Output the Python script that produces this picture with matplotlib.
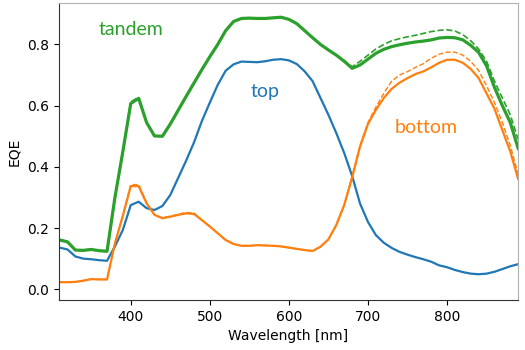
import matplotlib
matplotlib.use("Agg")
import matplotlib.pyplot as plt
import numpy as np

# wavelength grid [nm]
wavelength = np.arange(310, 891, 10)

# EQE
tandem = [0.161, 0.155, 0.128, 0.127, 0.130, 0.126, 0.124, 0.300, 0.450, 0.607,
          0.624, 0.545, 0.501, 0.500, 0.540, 0.585, 0.630, 0.674, 0.718, 0.760,
          0.800, 0.845, 0.875, 0.885, 0.886, 0.885, 0.885, 0.887, 0.889, 0.882,
          0.868, 0.845, 0.822, 0.800, 0.782, 0.765, 0.745, 0.722, 0.733, 0.752,
          0.771, 0.784, 0.793, 0.799, 0.804, 0.808, 0.811, 0.815, 0.821, 0.823,
          0.822, 0.815, 0.797, 0.774, 0.730, 0.660, 0.600, 0.545, 0.460]
tandem_dash = [0.161, 0.155, 0.128, 0.127, 0.130, 0.126, 0.124, 0.300, 0.452, 0.612,
               0.628, 0.545, 0.501, 0.500, 0.540, 0.585, 0.632, 0.676, 0.718, 0.760,
               0.800, 0.845, 0.875, 0.885, 0.886, 0.885, 0.885, 0.887, 0.889, 0.882,
               0.868, 0.845, 0.822, 0.800, 0.782, 0.765, 0.747, 0.727, 0.745, 0.765,
               0.785, 0.800, 0.812, 0.819, 0.825, 0.830, 0.836, 0.842, 0.846, 0.848,
               0.844, 0.832, 0.812, 0.785, 0.745, 0.680, 0.625, 0.570, 0.490]
top = [0.136, 0.130, 0.107, 0.100, 0.098, 0.095, 0.093, 0.140, 0.194, 0.275,
       0.286, 0.265, 0.259, 0.272, 0.308, 0.364, 0.420, 0.480, 0.550, 0.610,
       0.668, 0.714, 0.735, 0.744, 0.743, 0.742, 0.745, 0.750, 0.752, 0.748,
       0.736, 0.712, 0.680, 0.625, 0.570, 0.510, 0.445, 0.370, 0.280, 0.220,
       0.177, 0.152, 0.135, 0.122, 0.113, 0.105, 0.098, 0.090, 0.078, 0.072,
       0.063, 0.056, 0.051, 0.049, 0.051, 0.057, 0.066, 0.075, 0.082]
bottom = [0.023, 0.023, 0.024, 0.028, 0.033, 0.032, 0.032, 0.150, 0.240, 0.337,
          0.337, 0.281, 0.243, 0.232, 0.237, 0.243, 0.248, 0.246, 0.226, 0.205,
          0.183, 0.161, 0.148, 0.142, 0.142, 0.144, 0.143, 0.142, 0.140, 0.136,
          0.132, 0.128, 0.125, 0.139, 0.163, 0.210, 0.275, 0.365, 0.466, 0.540,
          0.586, 0.625, 0.655, 0.675, 0.690, 0.703, 0.712, 0.725, 0.740, 0.750,
          0.750, 0.740, 0.720, 0.690, 0.640, 0.590, 0.520, 0.450, 0.360]
bottom_dash = [0.023, 0.023, 0.024, 0.028, 0.033, 0.032, 0.032, 0.150, 0.242, 0.342,
               0.342, 0.283, 0.243, 0.234, 0.239, 0.245, 0.251, 0.249, 0.226, 0.205,
               0.183, 0.161, 0.148, 0.142, 0.142, 0.144, 0.143, 0.142, 0.140, 0.136,
               0.132, 0.128, 0.125, 0.139, 0.163, 0.210, 0.277, 0.370, 0.470, 0.545,
               0.595, 0.640, 0.680, 0.700, 0.711, 0.725, 0.737, 0.755, 0.768, 0.775,
               0.775, 0.765, 0.745, 0.715, 0.665, 0.610, 0.545, 0.470, 0.375]

GREEN = "#2ca02c"
BLUE = "#1f77b4"
ORANGE = "#ff7f0e"

fig = plt.figure(figsize=(5.25, 3.5), dpi=100)
ax = fig.add_axes([0.112, 0.143, 0.875, 0.848])

# dashed curves first, solid on top
ax.plot(wavelength, tandem_dash, "--", color=GREEN, lw=1.2)
ax.plot(wavelength, bottom_dash, "--", color=ORANGE, lw=1.0)
ax.plot(wavelength, tandem, color=GREEN, lw=2.3)
ax.plot(wavelength, top, color=BLUE, lw=1.6)
ax.plot(wavelength, bottom, color=ORANGE, lw=1.6)

ax.text(400, 0.85, "tandem", color=GREEN, fontsize=14, family="Lato",
        ha="center", va="center")
ax.text(570, 0.645, "top", color=BLUE, fontsize=14, family="Lato",
        ha="center", va="center")
ax.text(774, 0.53, "bottom", color=ORANGE, fontsize=14, family="Lato",
        ha="center", va="center")

ax.set_xlim(309, 890)
ax.set_ylim(-0.035, 0.935)
ax.set_xticks([400, 500, 600, 700, 800])
ax.set_yticks([0.0, 0.2, 0.4, 0.6, 0.8])
ax.set_xlabel("Wavelength [nm]")
ax.set_ylabel("EQE")

for side in ["top", "right"]:
    ax.spines[side].set_color("#b0b0b0")
for side in ["left", "bottom"]:
    ax.spines[side].set_color("#333333")

fig.savefig("out.png", dpi=100)
